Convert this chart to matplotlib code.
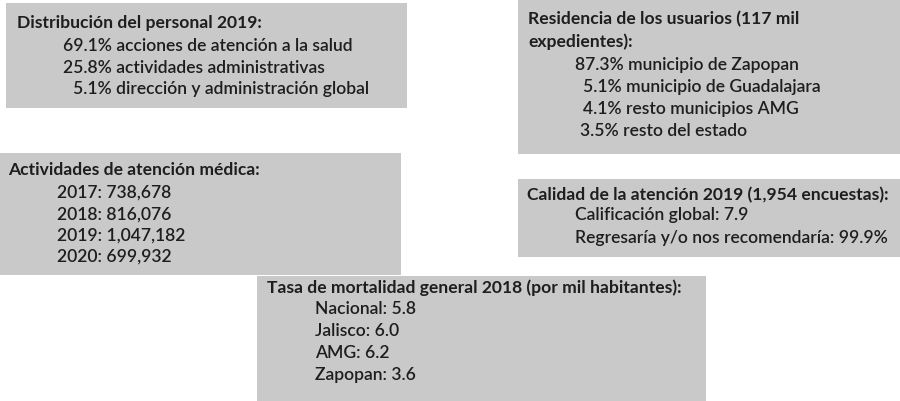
import matplotlib.pyplot as plt
from matplotlib.patches import Rectangle

# Contenido de cada recuadro
personal_titulo = "Distribución del personal 2019:"
personal_pct = [69.1, 25.8, 5.1]
personal_cat = [
    "acciones de atención a la salud",
    "actividades administrativas",
    "dirección y administración global",
]

residencia_titulo = ["Residencia de los usuarios (117 mil", "expedientes):"]
residencia_pct = [87.3, 5.1, 4.1, 3.5]
residencia_cat = [
    "municipio de Zapopan",
    "municipio de Guadalajara",
    "resto municipios AMG",
    "resto del estado",
]

actividades_titulo = "Actividades de atención médica:"
actividades_anio = [2017, 2018, 2019, 2020]
actividades_valor = [738678, 816076, 1047182, 699932]

calidad_titulo = "Calidad de la atención 2019 (1,954 encuestas):"
calidad_etiquetas = ["Calificación global:", "Regresaría y/o nos recomendaría:"]
calidad_valores = ["7.9", "99.9%"]

mortalidad_titulo = "Tasa de mortalidad general 2018 (por mil habitantes):"
mortalidad_lugar = ["Nacional", "Jalisco", "AMG", "Zapopan"]
mortalidad_tasa = [5.8, 6.0, 6.2, 3.6]

plt.rcParams["font.family"] = ["Lato", "DejaVu Sans"]

GRIS = "#c9c9c9"
TXT = "#1e1e1e"
FS = 12.6

fig = plt.figure(figsize=(9, 4.01), dpi=100)
ax = fig.add_axes([0, 0, 1, 1])
ax.set_xlim(0, 900)
ax.set_ylim(401, 0)
ax.axis("off")


def caja(x0, y0, x1, y1):
    ax.add_patch(Rectangle((x0, y0), x1 - x0, y1 - y0, facecolor=GRIS,
                           edgecolor="none", zorder=0))


def texto(x, y, s, bold=False):
    ax.text(x, y, s, fontsize=FS, color=TXT, va="center", ha="left",
            fontweight="bold" if bold else "semibold")


# Distribución del personal
caja(6, 3, 407, 108)
texto(17, 23, personal_titulo, bold=True)
for (p, c), x, y in zip(zip(personal_pct, personal_cat), [63, 63, 73], [46, 68, 89]):
    texto(x, y, f"{p:.1f}% {c}")

# Residencia
caja(518, 0, 900, 154)
texto(528, 19, residencia_titulo[0], bold=True)
texto(528, 42, residencia_titulo[1], bold=True)
for (p, c), x, y in zip(zip(residencia_pct, residencia_cat),
                        [575, 583, 583, 580], [65, 87, 109, 131]):
    texto(x, y, f"{p:.1f}% {c}")

# Actividades de atención médica
caja(0, 153, 401, 275)
texto(8, 170, actividades_titulo, bold=True)
for a, v, y in zip(actividades_anio, actividades_valor, [193, 215, 236, 257]):
    texto(57, y, f"{a}: {v:,}")

# Calidad de la atención
caja(518, 179, 900, 257)
texto(527, 195, calidad_titulo, bold=True)
for e, v, y in zip(calidad_etiquetas, calidad_valores, [215, 238]):
    texto(575, y, f"{e} {v}")

# Mortalidad
caja(257, 276, 706, 401)
texto(267, 288, mortalidad_titulo, bold=True)
for l, t, y in zip(mortalidad_lugar, mortalidad_tasa, [309, 331, 353, 375]):
    texto(315, y, f"{l}: {t:.1f}")

fig.savefig("out.png", dpi=100)
